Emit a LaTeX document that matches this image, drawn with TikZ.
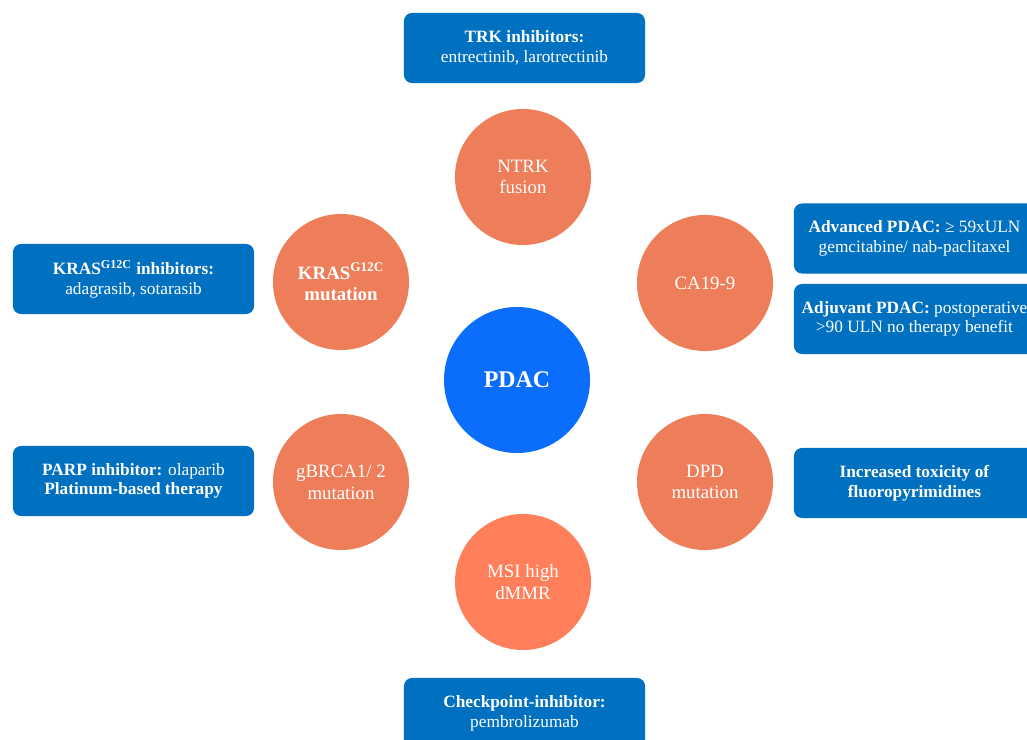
\documentclass[tikz,border=0pt]{standalone}
\usepackage{fontspec}
\setmainfont{Liberation Serif}
\usetikzlibrary{positioning}
\definecolor{boxblue}{HTML}{0070C0}
\definecolor{corebl}{HTML}{0B6DFC}
\definecolor{mkr}{HTML}{EE7E59}
\definecolor{msi}{HTML}{FF7F5A}
\tikzset{bx/.style={fill=boxblue,rounded corners=0.2cm,align=center,text=white,font=\fontsize{12.3}{14}\selectfont,minimum width=6.025cm,minimum height=1.75cm,inner sep=2pt},
 mk/.style={circle,fill=mkr,align=center,text=white,font=\fontsize{13.4}{15.5}\selectfont,minimum size=3.4cm,inner sep=0pt},
 core/.style={circle,fill=corebl,text=white,font=\fontsize{17}{20}\selectfont\bfseries,minimum size=3.65cm,inner sep=0pt}}

\begin{document}
\begin{tikzpicture}[x=0.025cm,y=-0.025cm]
\clip (0,0) rectangle (1027,740);
\node[core](pdac) at (517,380){PDAC};
\node[mk](ntrk) at (523,177){NTRK\\fusion};
\node[mk](kras) at (341,282){\textbf{KRAS\textsuperscript{G12C}}\\\textbf{mutation}};
\node[mk](ca) at (705,283){CA19-9};
\node[mk](brca) at (341,482){gBRCA1/ 2\\mutation};
\node[mk](dpd) at (705,482){DPD\\mutation};
\node[mk,fill=msi](msih) at (523,582){MSI high\\dMMR};
\node[bx](trk) at (524.5,48){\textbf{TRK inhibitors:}\\entrectinib, larotrectinib};
\node[bx](krasb) at (133.5,279){\textbf{KRAS\textsuperscript{G12C} inhibitors:}\\adagrasib, sotarasib};
\node[bx](adv) at (914.5,238.5){\textbf{Advanced PDAC:} ≥ 59xULN\\gemcitabine/ nab-paclitaxel};
\node[bx](adj) at (914.5,319){\textbf{Adjuvant PDAC:} postoperative\\>90 ULN no therapy benefit};
\node[bx](parp) at (133.5,481){\textbf{PARP inhibitor:} olaparib\\\textbf{Platinum-based therapy}};
\node[bx](tox) at (914.5,483){\textbf{Increased toxicity of}\\\textbf{fluoropyrimidines}};
\node[bx](cpi) at (524.5,713){\textbf{Checkpoint-inhibitor:}\\pembrolizumab};
\end{tikzpicture}
\end{document}
